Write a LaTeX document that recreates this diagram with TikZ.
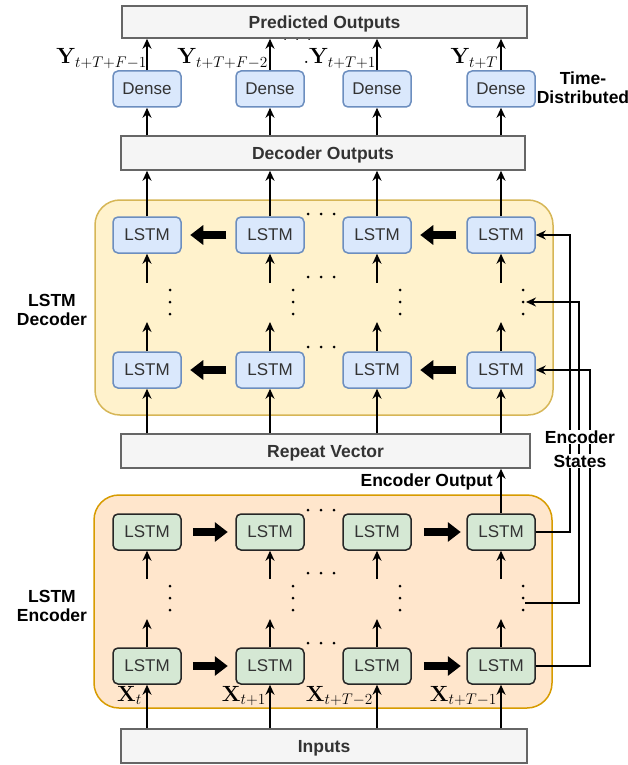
\RequirePackage{fix-cm}
\documentclass[tikz,border=0pt]{standalone}
\usepackage[no-math]{fontspec}
\setmainfont{Liberation Sans}
\usetikzlibrary{arrows.meta}
\definecolor{dfill}{HTML}{DAE8FC}
\definecolor{dbord}{HTML}{6C8EBF}
\definecolor{efill}{HTML}{D5E8D4}
\definecolor{gfill}{HTML}{F5F5F5}
\definecolor{gbord}{HTML}{666666}
\definecolor{ybg}{HTML}{FFF2CC}
\definecolor{ybord}{HTML}{D6B656}
\definecolor{obg}{HTML}{FFE6CC}
\definecolor{obord}{HTML}{D79B00}
\definecolor{tgray}{HTML}{333333}
\tikzset{
  cell/.style={rounded corners=5pt, minimum width=68pt, minimum height=36pt, line width=1.5pt,
    font=\fontsize{17}{20}\selectfont, text=tgray, inner sep=0pt},
  dcell/.style={cell, fill=dfill, draw=dbord},
  ecell/.style={cell, fill=efill, draw=black!85},
  bar/.style={draw=gbord, fill=gfill, line width=1.5pt, inner sep=0pt, text height=12.5pt, text depth=0pt,
    font=\bfseries\fontsize{17.5}{20}\selectfont, text=tgray},
  bglayer/.style={rounded corners=25pt, line width=1.5pt},
  lab/.style={font=\bfseries\fontsize{17.5}{20}\selectfont, align=center, inner sep=1pt},
  mlab/.style={font=\fontsize{22}{24}\selectfont, inner sep=0pt, anchor=base east},
  arr/.style={line width=1.6pt, -{Stealth[length=10pt,width=9pt]}},
  fat/.style={line width=8pt, -{Triangle[length=13pt,width=19pt]}},
}
\begin{document}
\begin{tikzpicture}[x=1pt,y=-1pt]
\useasboundingbox (0,0) rectangle (628,765);
% backgrounds
\node[bglayer, fill=ybg, draw=ybord, minimum width=458pt, minimum height=215pt] (decbg) at (324,307.5) {};
\node[bglayer, fill=obg, draw=obord, minimum width=458pt, minimum height=213pt] (encbg) at (323,601.5) {};
% hidden dots under predicted outputs
\foreach \xx in {285,297,309} \fill (\xx,38.5) circle (1.5pt);
% bars
\node[bar, minimum width=405pt, minimum height=32pt] (pred) at (324.5,22) {Predicted Outputs};
\node[bar, minimum width=404pt, minimum height=34pt] (decout) at (323,153) {Decoder Outputs};
\node[bar, minimum width=409pt, minimum height=34pt] (rep) at (325.5,451) {Repeat Vector};
\node[bar, minimum width=406pt, minimum height=34pt] (inp) at (324,746) {Inputs};
% cells
\foreach \n/\x in {1/147,2/270,3/377,4/501} {
  \node[dcell] (dn\n) at (\x,89) {Dense};
  \node[dcell] (dt\n) at (\x,235) {LSTM};
  \node[dcell] (db\n) at (\x,370) {LSTM};
  \node[ecell] (et\n) at (\x,532) {LSTM};
  \node[ecell] (eb\n) at (\x,666) {LSTM};
  \coordinate (du\n) at (\x,322);
  \coordinate (dl\n) at (\x,283);
  \coordinate (eu\n) at (\x,619);
  \coordinate (el\n) at (\x,579);
}
% vertical arrows
\foreach \n in {1,2,3,4} {
  \draw[arr] (eb\n |- inp.north) -- (eb\n.south);
  \draw[arr] (eb\n.north) -- (eu\n);
  \draw[arr] (el\n) -- (et\n.south);
  \draw[arr] (db\n |- rep.north) -- (db\n.south);
  \draw[arr] (db\n.north) -- (du\n);
  \draw[arr] (dl\n) -- (dt\n.south);
  \draw[arr] (dt\n.north) -- (dt\n |- decout.south);
  \draw[arr] (dn\n |- decout.north) -- (dn\n.south);
  \draw[arr] (dn\n.north) -- (dn\n |- pred.south);
}
\draw[arr] (et4.north) -- (et4 |- rep.south);
% fat arrows
\foreach \r in {t,b} {
  \draw[fat] (d\r2.west) ++(-9,0) -- ++(-36,0);
  \draw[fat] (d\r4.west) ++(-10,0) -- ++(-36,0);
  \draw[fat] (e\r1.east) ++(11,0) -- ++(35,0);
  \draw[fat] (e\r3.east) ++(12,0) -- ++(37,0);
}
% dots
\foreach \yy in {214,277,347,510,573,643}
  \foreach \xx in {308,321,334} \fill (\xx,\yy) circle (1.5pt);
\foreach \xx in {170,293,400,523} {
  \foreach \yy in {290,302,314,586,598,610} \fill (\xx,\yy) circle (1.5pt);
}
\coordinate (ddot) at (526,302);
\coordinate (edot) at (525,603);
% encoder states
\draw[arr, line width=1.5pt] (et4.east) -- ++(34,0) |- (dt4.east);
\draw[arr, line width=1.5pt] (edot) -- (579,603) |- (ddot);
\draw[arr, line width=1.5pt] (eb4.east) -- ++(54,0) |- (db4.east);
\node[lab, fill=white] (es1) at (580,437) {Encoder};
\node[lab, fill=white] (es2) at (580,461) {States};
% labels
\node[lab] (td) at (583,88) {Time-\\[-1pt]Distributed};
\node[lab] (ldec) at (52,310) {LSTM\\[-1pt]Decoder};
\node[lab] (lenc) at (52,606) {LSTM\\[-1pt]Encoder};
\node[lab, anchor=east] (eo) at (494,482) {Encoder Output};
% math labels
\node[mlab] (y1) at (147,64) {$\mathbf{Y}_{t+T+F-1}$};
\node[mlab] (y2) at (268,64) {$\mathbf{Y}_{t+T+F-2}$};
\node[mlab] (y3) at (376,64) {$.\mathbf{Y}_{t+T+1}$};
\node[mlab] (y4) at (498,64) {$\mathbf{Y}_{t+T}$};
\node[mlab] (x1) at (142,701) {$\mathbf{X}_{t}$};
\node[mlab] (x2) at (266,701) {$\mathbf{X}_{t+1}$};
\node[mlab] (x3) at (373,701) {$\mathbf{X}_{t+T-2}$};
\node[mlab] (x4) at (497,701) {$\mathbf{X}_{t+T-1}$};
\end{tikzpicture}
\end{document}
